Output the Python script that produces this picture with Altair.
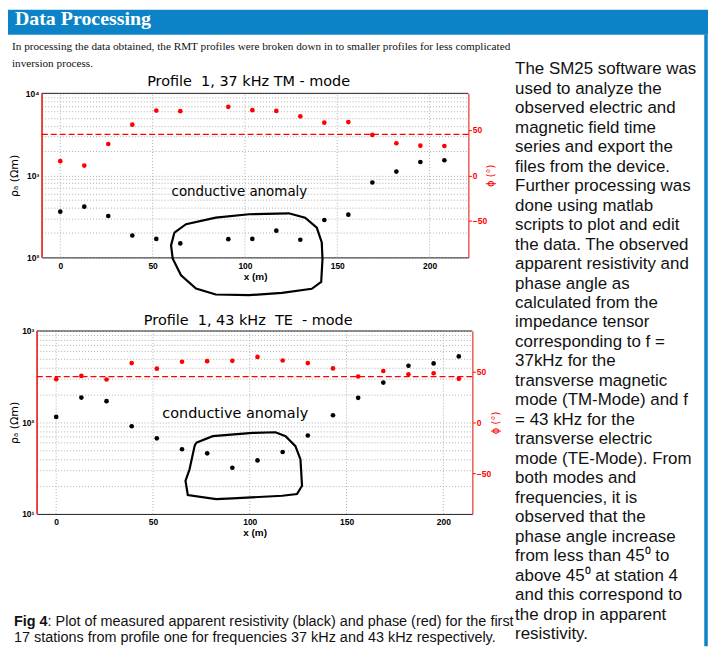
import altair as alt
import pandas as pd

# ---------------- data ----------------
# Profile 1, 37 kHz TM-mode (station at 78 m missing)
tm_x = [0, 13, 26, 39, 52, 65, 91, 104, 117, 130, 143, 156, 169, 182, 195, 208]
tm_rho = [361, 415, 320, 185, 168, 148, 167, 168, 212, 164, 286, 332, 819, 1112, 1457, 1527]
tm_phi = [15.6, 10.7, 34.4, 55.6, 71.1, 70.4, 75.2, 71.5, 70.7, 64.8, 57.8, 58.5, 44.4, 35.2, 32.6, 32.2]

# Profile 1, 43 kHz TE-mode
te_x = [0, 13, 26, 39, 52, 65, 78, 91, 104, 117, 130, 143, 156, 169, 182, 195, 208]
te_rho = [115, 187, 171, 91, 67, 51, 46, 32, 38.5, 47.5, 72, 120, 186, 273, 417, 442, 527]
te_phi = [42.6, 45.8, 42.3, 58.4, 52.9, 59.7, 60.3, 60.6, 64.5, 61.0, 58.4, 53.2, 45.2, 50.6, 47.4, 48.4, 42.9]

# hand-drawn "conductive anomaly" outlines (data coordinates)
tm_loop_x = [61.8, 68.1, 84.2, 102.2, 123.7, 132.6, 138.9, 141.6, 142.0, 141.3, 136.2, 120.1,
             102.2, 84.2, 73.5, 65.4, 60.9, 60.0, 61.8]
tm_loop_rho = [201, 254, 305, 336, 345, 305, 231, 152, 95.6, 50.2, 41.4, 37.0,
               34.6, 35.3, 41.8, 60.5, 96.4, 140, 201]
te_loop_x = [72.3, 80.9, 101.4, 113.3, 118.5, 123.6, 126.2, 127.0, 124.4, 116.8, 91.1, 82.6,
             68.0, 66.8, 68.9, 71.5, 72.3]
te_loop_rho = [59.9, 70.8, 76.9, 78.2, 70.8, 55.1, 39.5, 20.3, 16.5, 15.8, 14.8, 14.5,
               16.1, 23.0, 30.8, 55.1, 59.9]

x_ticks = [0, 50, 100, 150, 200]
phi_ticks = [-50, 0, 50]
phi_ref = 45

header_text = "Data Processing"
intro_lines = [
    "In processing the data obtained, the RMT profiles were broken down in to smaller profiles for less complicated",
    "inversion process.",
]
right_lines = [
    "The SM25 software was", "used to analyze the", "observed electric and",
    "magnetic field time", "series and export the", "files from the device.",
    "Further processing was", "done using matlab", "scripts to plot and edit",
    "the data. The observed", "apparent resistivity and", "phase angle as",
    "calculated from the", "impedance tensor", "corresponding to f =",
    "37kHz for the", "transverse magnetic", "mode (TM-Mode) and f",
    "= 43 kHz for the", "transverse electric", "mode (TE-Mode). From",
    "both modes and", "frequencies, it is", "observed that the",
    "phase angle increase", "from less than 45\u2070 to", "above 45\u2070 at station 4",
    "and this correspond to", "the drop in apparent", "resistivity.",
]
caption_bold = "Fig 4"
caption_l1 = ": Plot of measured apparent resistivity (black) and phase (red) for the first"
caption_l2 = "17 stations from profile one for frequencies 37 kHz and 43 kHz respectively."
title1 = "Profile\u00a0 1, 37 kHz TM - mode"
title2 = "Profile\u00a0 1, 43 kHz\u00a0 TE\u00a0 - mode"

W, H = 704, 640
BLUE = "#0b83c6"
GRID = "#b0b0b0"
RED_AX = "#e8322c"
SUP = {1: "\u00b9", 2: "\u00b2", 3: "\u00b3", 4: "\u2074"}


def panel(xs, rho, phi, lx, lrho, xdom, e0, e1, box, ann, ytx, rtx):
    x0, x1, yt, yb = box
    pts = pd.DataFrame({"x": xs, "rho": rho, "phi": phi})
    loop = pd.DataFrame({"x": lx, "rho": lrho, "o": list(range(len(lx)))})
    frame = pd.DataFrame({"x": [xdom[0]], "x2": [xdom[1]], "rho": [10 ** e1], "phi": [phi_ref]})
    lframe = pd.DataFrame({"x": [xdom[0]], "rho": [10 ** e0], "rho2": [10 ** e1]})
    note = pd.DataFrame({"x": [ann[0]], "rho": [ann[1]], "t": ["conductive anomaly"]})
    vgrid = pd.DataFrame({"x": x_ticks, "rho": [10 ** e0] * len(x_ticks),
                          "rho2": [10 ** e1] * len(x_ticks)})
    yticks = [m * 10 ** k for k in range(e0, e1) for m in range(1, 10)] + [10 ** e1]
    expr = " : ".join(f"datum.value == {10 ** k} ? '10{SUP[k]}'" for k in range(e0, e1 + 1)) + " : ''"

    xenc = alt.X("x:Q", scale=alt.Scale(domain=xdom, range=[x0, x1], nice=False, zero=False),
                 axis=alt.Axis(orient="bottom", offset=yb - H, values=x_ticks, title="x (m)",
                               grid=False, ticks=False,
                               domainColor="#222", labelFont="Liberation Sans",
                               labelFontWeight="bold", labelFontSize=8.5, labelColor="black",
                               labelPadding=4, labelFlush=False, titleFont="Liberation Sans",
                               titleFontWeight="bold", titleFontSize=10, titleColor="black",
                               titleBaseline="top", titleY=14))
    yl = alt.Y("rho:Q",
               scale=alt.Scale(type="log", domain=[10 ** e0, 10 ** e1], range=[yb, yt], nice=False),
               axis=alt.Axis(orient="left", offset=-x0, values=yticks, labelExpr=expr,
                             labelOverlap=False, labelFlush=False, grid=True, gridDash=[1, 2],
                             gridColor=GRID, ticks=False, domainColor=RED_AX,
                             domainWidth=1.2,
                             labelFont="Liberation Sans", labelFontWeight="bold",
                             labelFontSize=8.5, labelColor="black", labelPadding=3,
                             title="\u03c1\u2090 (\u03a9m)", titleFont="DejaVu Sans",
                             titleFontWeight="normal", titleFontSize=11, titleColor="black",
                             titleX=ytx, titleY=(yt + yb) / 2, titleAngle=270,
                             titleAlign="center", titleBaseline="middle"))
    yr = alt.Y("phi:Q", scale=alt.Scale(domain=[-90, 90], range=[yb, yt], nice=False, zero=False),
               axis=alt.Axis(orient="right", offset=x1 - W, values=phi_ticks, grid=False,
                             domainColor=RED_AX, domainWidth=1.2, tickColor="red",
                             tickSize=3, labelColor="red",
                             labelFont="Liberation Sans", labelFontWeight="bold",
                             labelFontSize=8.5, labelPadding=1, title="\u03d5 (\u00b0)",
                             titleColor="red", titleFont="DejaVu Sans",
                             titleFontWeight="normal", titleFontSize=10, titleX=rtx,
                             titleY=(yt + yb) / 2, titleAngle=270, titleAlign="center",
                             titleBaseline="middle"))

    grid_v = alt.Chart(vgrid).mark_rule(color=GRID, strokeDash=[1, 2], strokeWidth=1).encode(
        x=xenc, y=yl, y2="rho2:Q")
    black = alt.Chart(pts).mark_circle(size=22, color="black", opacity=1).encode(x=xenc, y=yl)
    outline = alt.Chart(loop).mark_line(color="black", strokeWidth=2.2).encode(
        x=xenc, y=yl, order="o:Q")
    label = alt.Chart(note).mark_text(
        font="DejaVu Sans", fontSize=ann[2], color="black", align="center",
        baseline="middle").encode(x=xenc, y=yl, text="t:N")
    topline = alt.Chart(frame).mark_rule(color="#222", strokeWidth=1).encode(
        x=xenc, x2="x2:Q", y=yl)
    leftline = alt.Chart(lframe).mark_rule(color=RED_AX, strokeWidth=1.2).encode(
        x=xenc, y=yl, y2="rho2:Q")
    left = alt.layer(grid_v, black, outline, label, topline, leftline)

    red = alt.Chart(pts).mark_circle(size=22, color="red", opacity=1).encode(x=xenc, y=yr)
    dash = alt.Chart(frame).mark_rule(
        color="red", strokeDash=[6, 3], strokeWidth=1.3).encode(x=xenc, x2="x2:Q", y=yr)
    right = alt.layer(red, dash)
    return alt.layer(left, right).resolve_scale(y="independent")


chart1 = panel(tm_x, tm_rho, tm_phi, tm_loop_x, tm_loop_rho, [-10, 221], 2, 4,
               (34, 463, 84, 249), (97, 625, 13.5), -27, 22)
chart2 = panel(te_x, te_rho, te_phi, te_loop_x, te_loop_rho, [-10, 215], 1, 3,
               (29, 467, 323, 507), (92.5, 125, 14.5), -22, 23)


def txt(s, x, y, size, font="Liberation Sans", weight="normal", color="#111",
        align="left", lh=None):
    kw = dict(font=font, fontSize=size, fontWeight=weight, color=color, align=align,
              baseline="alphabetic")
    if lh:
        kw.update(lineBreak="\n", lineHeight=lh)
    return alt.Chart(pd.DataFrame({"t": [s]})).mark_text(**kw).encode(
        x=alt.value(x), y=alt.value(y), text="t:N")


one = pd.DataFrame({"a": [0]})
hdr_rect = alt.Chart(one).mark_rect(color=BLUE).encode(
    x=alt.value(0), x2=alt.value(W), y=alt.value(0), y2=alt.value(25))
border = alt.Chart(one).mark_rule(color=BLUE, strokeWidth=3.5).encode(
    x=alt.value(702), y=alt.value(25), y2=alt.value(H))

deco = [
    hdr_rect, border,
    txt(header_text, 7, 15, 20, font="Liberation Serif", weight="bold", color="white"),
    txt("\n".join(intro_lines), 4, 40.3, 11.3, font="Liberation Serif", lh=17.4),
    txt(title1, 242, 76.3, 14.5, font="DejaVu Sans", color="black", align="center"),
    txt(title2, 241.6, 316.7, 14.5, font="DejaVu Sans", color="black", align="center"),
    txt("\n".join(right_lines), 510, 64.7, 17, lh=19.6),
    txt(caption_bold, 6, 619.3, 14.5, weight="bold"),
    txt(caption_l1, 39.8, 619.3, 14.5),
    txt(caption_l2, 6, 636, 14.5),
]

chart = alt.layer(*deco, chart1, chart2).resolve_scale(
    x="independent", y="independent"
).properties(
    width=W, height=H, padding=0, background="white",
    autosize=alt.AutoSizeParams(type="none"),
).configure_view(strokeWidth=0)

chart.save("out.html", embed_options={"renderer": "svg", "actions": False})
